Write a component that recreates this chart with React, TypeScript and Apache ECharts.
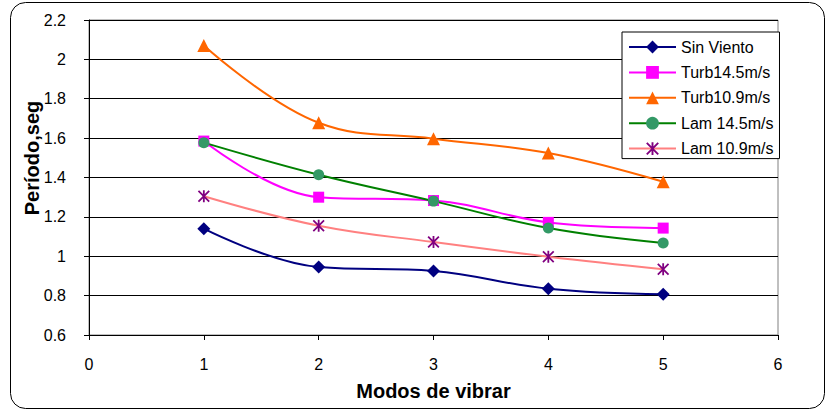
import React, { useEffect, useRef } from "react";
import * as echarts from "echarts";

const modes = [1, 2, 3, 4, 5];
const seriesNames = ["Sin Viento", "Turb14.5m/s", "Turb10.9m/s", "Lam 14.5m/s", "Lam 10.9m/s"];
const sinViento = [1.14, 0.945, 0.925, 0.835, 0.807];
const turb145 = [1.585, 1.3, 1.283, 1.172, 1.143];
const turb109 = [2.07, 1.678, 1.597, 1.524, 1.378];
const lam145 = [1.577, 1.414, 1.28, 1.143, 1.067];
const lam109 = [1.305, 1.155, 1.072, 0.998, 0.934];
const yTicks = { min: 0.6, max: 2.2, interval: 0.2 };
const xTicks = { min: 0, max: 6, interval: 1 };

const STAR =
  "path://M8.5 0 L11.5 0 L11.5 20 L8.5 20 Z M0 2.1 L2.1 0 L20 17.9 L17.9 20 Z M17.9 0 L20 2.1 L2.1 20 L0 17.9 Z";

const FONT = "'Liberation Sans', Arial, sans-serif";

export default function App() {
  const ref = useRef<HTMLDivElement>(null);
  useEffect(() => {
    if (!ref.current) return;
    const chart = echarts.init(ref.current, null, { renderer: "svg" });
    const pts = (vals: number[]) => modes.map((m, i) => [m, vals[i]]);
    const mk = (
      name: string,
      vals: number[],
      lineColor: string,
      markColor: string,
      symbol: string,
      size: number
    ) => ({
      name,
      type: "line",
      data: pts(vals),
      smooth: 0.4,
      symbol,
      symbolSize: size,
      showAllSymbol: true,
      lineStyle: { color: lineColor, width: 2 },
      itemStyle: { color: markColor, borderWidth: 0 },
      emphasis: { disabled: true },
    });
    chart.setOption({
      animation: false,
      backgroundColor: "#fff",
      textStyle: { fontFamily: FONT },
      graphic: [
        {
          type: "rect",
          shape: { x: 10.5, y: 2.5, width: 814, height: 406, r: 15 },
          style: { fill: "none", stroke: "#000", lineWidth: 1 },
          silent: true,
          z: -10,
        },
        {
          type: "text",
          x: 32,
          y: 158,
          rotation: Math.PI / 2,
          style: {
            text: "Período,seg",
            font: `bold 20px ${FONT}`,
            fill: "#000",
            textAlign: "center",
            textVerticalAlign: "middle",
          },
        },
      ],
      grid: {
        left: 89,
        right: 49,
        top: 20,
        bottom: 77,
        show: true,
        borderColor: "#808080",
        borderWidth: 1,
        backgroundColor: "#fff",
      },
      legend: {
        orient: "vertical",
        left: 622,
        top: 32,
        padding: [7, 6, 2, 6],
        itemWidth: 47,
        itemHeight: 16,
        itemGap: 9.4,
        backgroundColor: "#fff",
        borderColor: "#000",
        borderWidth: 1,
        data: seriesNames,
        textStyle: { fontSize: 16, color: "#000", fontFamily: FONT, lineHeight: 16 },
      },
      xAxis: {
        type: "value",
        min: xTicks.min,
        max: xTicks.max,
        interval: xTicks.interval,
        name: "Modos de vibrar",
        nameLocation: "middle",
        nameGap: 46,
        nameTextStyle: { fontSize: 20, fontWeight: "bold", color: "#000", fontFamily: FONT },
        axisLine: { lineStyle: { color: "#000", width: 1 } },
        axisTick: { show: true, length: 5, lineStyle: { color: "#000" } },
        axisLabel: { fontSize: 16, color: "#000", margin: 21, fontFamily: FONT },
        splitLine: { show: false },
      },
      yAxis: {
        type: "value",
        min: yTicks.min,
        max: yTicks.max,
        interval: yTicks.interval,
        axisLine: { show: true, lineStyle: { color: "#000", width: 1 } },
        axisTick: { show: true, length: 5, lineStyle: { color: "#000" } },
        axisLabel: { fontSize: 16, color: "#000", margin: 23, fontFamily: FONT },
        splitLine: { show: true, lineStyle: { color: "#000", width: 1 } },
      },
      series: [
        mk(seriesNames[0], sinViento, "#000080", "#000080", "diamond", 13),
        mk(seriesNames[1], turb145, "#FF00FF", "#FF00FF", "rect", 11),
        mk(seriesNames[2], turb109, "#FF6600", "#FF6600", "triangle", 13),
        mk(seriesNames[3], lam145, "#008000", "#339966", "circle", 11),
        mk(seriesNames[4], lam109, "#FF8080", "#800080", STAR, 12),
      ],
    });
    return () => chart.dispose();
  }, []);
  return (
    <div
      ref={ref}
      style={{ position: "fixed", left: 0, top: 0, width: 827, height: 412, background: "#fff" }}
    />
  );
}
